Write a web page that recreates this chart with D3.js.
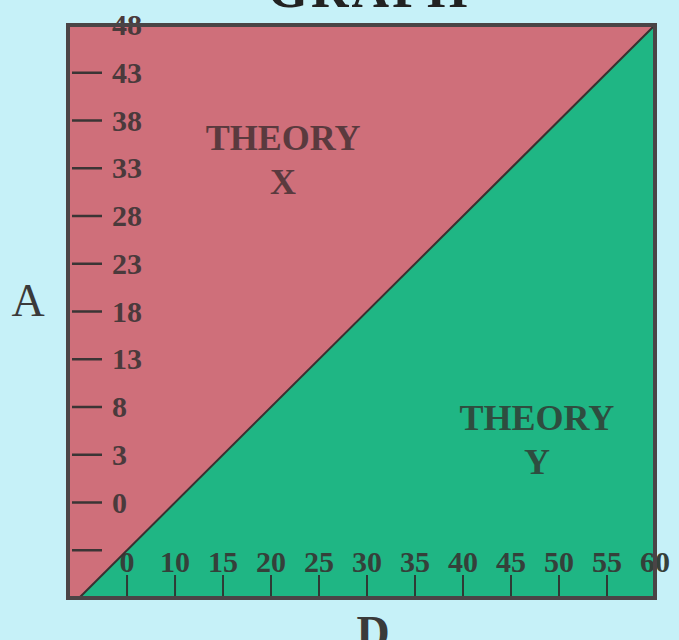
<!DOCTYPE html>
<html>
<head>
<meta charset="utf-8">
<script src="https://cdn.jsdelivr.net/npm/d3@7"></script>
<style>
  html, body { margin: 0; padding: 0; background: #c6f1f8; }
  svg { display: block; }
  text { font-family: "Liberation Serif", "Times New Roman", serif; }
</style>
</head>
<body>
<div id="chart"></div>
<script>
// tick labels, bottom to top / left to right
const xTickLabels = ["0", "10", "15", "20", "25", "30", "35", "40", "45", "50", "55", "60"];
const yTickLabels = ["", "0", "3", "8", "13", "18", "23", "28", "33", "38", "43", "48"];

// dividing line between the two theories (in tick-index units)
const divider = [[-1, 0], [11, 12]];

const regionNames = ["THEORY X", "THEORY Y"];

const width = 679,
      height = 640,
      margin = ({top: 25, right: 24, bottom: 42, left: 68});

let svg = d3.select("#chart")
    .append("svg")
    .attr("width", width)
    .attr("height", height)
    .attr("viewBox", [0, 0, width, height]);

// x: tick index -> px, left edge sits a bit before the "0" tick
let x = d3.scaleLinear()
    .domain([-1.23, xTickLabels.length - 1])
    .range([margin.left, width - margin.right]);

// y: tick index -> px, ticks at 1..12
let y = d3.scaleLinear()
    .domain([0, yTickLabels.length])
    .range([height - margin.bottom, margin.top]);

const [x0, x1] = x.domain(),
      [y0, y1] = y.domain();

// theory X fills the whole plot, theory Y sits under the line
svg.append("rect")
    .attr("x", x(x0))
    .attr("y", y(y1))
    .attr("width", x(x1) - x(x0))
    .attr("height", y(y0) - y(y1))
    .attr("fill", "#cf6f7a");

const line = d3.line().x(d => x(d[0])).y(d => y(d[1]));

svg.append("path")
    .attr("d", line([divider[0], divider[1], [x1, y0]]) + "Z")
    .attr("fill", "#1fb684");

// y ticks
const yTicks = yTickLabels.map((t, i) => ({label: t, v: i + 1}));

let yt = svg.append("g").selectAll("g")
    .data(yTicks)
    .join("g")
    .attr("transform", d => `translate(0,${y(d.v)})`);

yt.append("line")
    .attr("x1", x(x0) + 4)
    .attr("x2", x(x0) + 34)
    .attr("stroke", "#3a3535")
    .attr("stroke-width", 2.5);

yt.append("text")
    .attr("x", x(x0) + 44)
    .attr("dy", "0.34em")
    .attr("font-size", 30)
    .attr("font-weight", "bold")
    .attr("fill", "#4a3a3c")
    .text(d => d.label);

// x ticks
let xt = svg.append("g").selectAll("g")
    .data(xTickLabels)
    .join("g")
    .attr("transform", (d, i) => `translate(${x(i)},0)`);

xt.append("line")
    .attr("y1", y(y0) - 23)
    .attr("y2", y(y0))
    .attr("stroke", "#2f3a35")
    .attr("stroke-width", 2);

xt.append("text")
    .attr("y", y(y0) - 26)
    .attr("text-anchor", "middle")
    .attr("font-size", 30)
    .attr("font-weight", "bold")
    .attr("fill", "#35403a")
    .text(d => d);

// dividing line
svg.append("path")
    .attr("d", line(divider))
    .attr("fill", "none")
    .attr("stroke", "#3a3030")
    .attr("stroke-width", 2);

// frame
svg.append("rect")
    .attr("x", x(x0))
    .attr("y", y(y1))
    .attr("width", x(x1) - x(x0))
    .attr("height", y(y0) - y(y1))
    .attr("fill", "none")
    .attr("stroke", "#4a4446")
    .attr("stroke-width", 4);

// region labels
const regionPos = [[3.25, 9.38], [8.54, 3.52]];

regionNames.forEach((name, i) => {
    const [word, letter] = name.split(" ");
    const t = svg.append("text")
        .attr("x", x(regionPos[i][0]))
        .attr("y", y(regionPos[i][1]))
        .attr("text-anchor", "middle")
        .attr("font-size", 36)
        .attr("font-weight", "bold")
        .attr("fill", i === 0 ? "#5a3a3e" : "#2e4d3f");
    t.append("tspan").text(word);
    t.append("tspan")
        .attr("x", x(regionPos[i][0]))
        .attr("dy", 44)
        .text(letter);
});

// axis titles
svg.append("text")
    .attr("x", 28)
    .attr("y", 316)
    .attr("text-anchor", "middle")
    .attr("font-size", 46)
    .attr("fill", "#3a3a3a")
    .text("A");

svg.append("text")
    .attr("x", 373)
    .attr("y", 648)
    .attr("text-anchor", "middle")
    .attr("font-size", 46)
    .attr("font-weight", "bold")
    .attr("fill", "#3a3a3a")
    .text("D");

// title, mostly off the top of the page
svg.append("text")
    .attr("x", 369)
    .attr("y", 7)
    .attr("text-anchor", "middle")
    .attr("font-size", 52)
    .attr("font-weight", "bold")
    .attr("letter-spacing", 3)
    .attr("fill", "#222")
    .text("GRAPH");
</script>
</body>
</html>
